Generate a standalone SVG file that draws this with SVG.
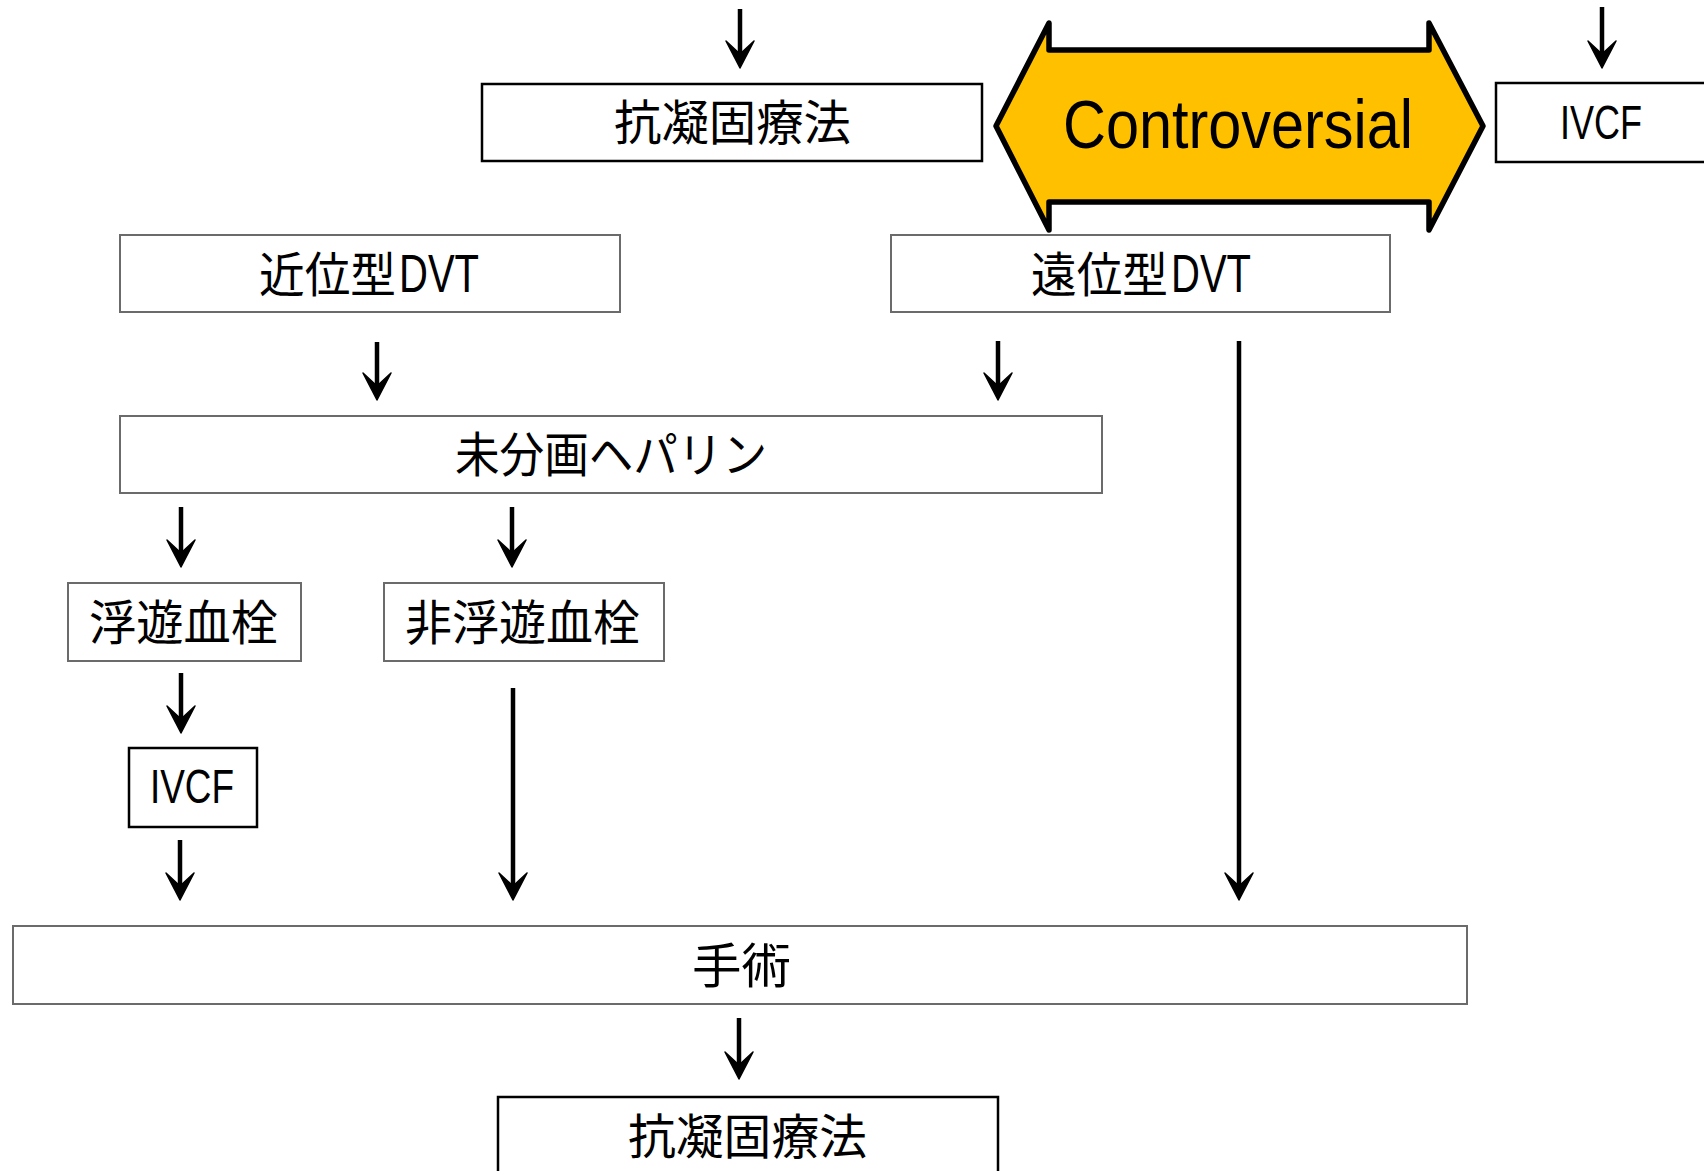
<svg xmlns="http://www.w3.org/2000/svg" width="1704" height="1171" viewBox="0 0 1704 1171">
  <style>
    .box-gray { fill: #ffffff; stroke: #6b6b6b; stroke-width: 2; }
    .box-black { fill: #ffffff; stroke: #000000; stroke-width: 2.5; }
    .jp { font-family: "Noto Sans CJK JP", "Noto Sans CJK SC", sans-serif; font-size: 48px; fill: #000; }
    .lat { font-family: "Liberation Sans", "DejaVu Sans", sans-serif; fill: #000; }
    .wire { fill: none; stroke: #000; stroke-width: 4.5; }
  </style>
  <defs>
    <marker id="head" viewBox="-30 -16 32 32" refX="-12" refY="0" markerUnits="userSpaceOnUse" markerWidth="32" markerHeight="32" orient="auto">
      <path d="M0,0 L-27,-14 L-14,0 L-27,14 Z" fill="#000" stroke="#000" stroke-width="1.5" stroke-linejoin="round"/>
    </marker>
  </defs>

  <rect x="0" y="0" width="1704" height="1171" fill="#ffffff"/>

  <!-- connectors -->
  <g id="connectors">
    <line class="wire" x1="740" y1="9" x2="740" y2="56" marker-end="url(#head)"/>
    <line class="wire" x1="1602" y1="7" x2="1602" y2="56" marker-end="url(#head)"/>
    <line class="wire" x1="377" y1="342" x2="377" y2="388" marker-end="url(#head)"/>
    <line class="wire" x1="998" y1="341" x2="998" y2="388" marker-end="url(#head)"/>
    <line class="wire" x1="1239" y1="341" x2="1239" y2="888" marker-end="url(#head)"/>
    <line class="wire" x1="181" y1="507" x2="181" y2="555" marker-end="url(#head)"/>
    <line class="wire" x1="512" y1="507" x2="512" y2="555" marker-end="url(#head)"/>
    <line class="wire" x1="181" y1="673" x2="181" y2="721" marker-end="url(#head)"/>
    <line class="wire" x1="180" y1="840" x2="180" y2="888" marker-end="url(#head)"/>
    <line class="wire" x1="513" y1="688" x2="513" y2="888" marker-end="url(#head)"/>
    <line class="wire" x1="739" y1="1018" x2="739" y2="1067" marker-end="url(#head)"/>
  </g>

  <!-- anticoagulation (top) -->
  <g id="anticoag-top">
    <rect class="box-black" x="482" y="84" width="500" height="77"/>
    <text class="jp" x="614" y="140" textLength="237" lengthAdjust="spacingAndGlyphs">抗凝固療法</text>
  </g>

  <!-- double-headed controversial arrow -->
  <g id="controversial">
    <polygon points="996,126 1049,23 1049,50 1429,50 1429,23 1483,126 1429,230 1429,202 1049,202 1049,230" fill="#FFC000" stroke="#000" stroke-width="5.5" stroke-linejoin="round"/>
    <text class="lat" x="1063" y="148" font-size="68" textLength="350" lengthAdjust="spacingAndGlyphs">Controversial</text>
  </g>

  <!-- IVCF (top right) -->
  <g id="ivcf-top">
    <rect class="box-black" x="1496" y="83" width="220" height="79"/>
    <text class="lat" x="1560" y="139" font-size="48" textLength="82" lengthAdjust="spacingAndGlyphs">IVCF</text>
  </g>

  <!-- proximal DVT -->
  <g id="proximal-dvt">
    <rect class="box-gray" x="120" y="235" width="500" height="77"/>
    <text class="jp" x="259" y="292" textLength="137" lengthAdjust="spacingAndGlyphs">近位型</text>
    <text class="lat" x="399" y="292" font-size="54" textLength="80" lengthAdjust="spacingAndGlyphs">DVT</text>
  </g>

  <!-- distal DVT -->
  <g id="distal-dvt">
    <rect class="box-gray" x="891" y="235" width="499" height="77"/>
    <text class="jp" x="1031" y="292" textLength="137" lengthAdjust="spacingAndGlyphs">遠位型</text>
    <text class="lat" x="1171" y="292" font-size="54" textLength="80" lengthAdjust="spacingAndGlyphs">DVT</text>
  </g>

  <!-- unfractionated heparin -->
  <g id="heparin">
    <rect class="box-gray" x="120" y="416" width="982" height="77"/>
    <text class="jp" x="455" y="472" textLength="312" lengthAdjust="spacingAndGlyphs">未分画ヘパリン</text>
  </g>

  <!-- floating thrombus -->
  <g id="floating">
    <rect class="box-gray" x="68" y="583" width="233" height="78"/>
    <text class="jp" x="89" y="640" textLength="189" lengthAdjust="spacingAndGlyphs">浮遊血栓</text>
  </g>

  <!-- non-floating thrombus -->
  <g id="non-floating">
    <rect class="box-gray" x="384" y="583" width="280" height="78"/>
    <text class="jp" x="405" y="640" textLength="235" lengthAdjust="spacingAndGlyphs">非浮遊血栓</text>
  </g>

  <!-- IVCF (left) -->
  <g id="ivcf-left">
    <rect class="box-black" x="129" y="748" width="128" height="79"/>
    <text class="lat" x="150" y="803" font-size="48" textLength="84" lengthAdjust="spacingAndGlyphs">IVCF</text>
  </g>

  <!-- surgery -->
  <g id="surgery">
    <rect class="box-gray" x="13" y="926" width="1454" height="78"/>
    <text class="jp" x="692" y="983" textLength="99" lengthAdjust="spacingAndGlyphs">手術</text>
  </g>

  <!-- anticoagulation (bottom) -->
  <g id="anticoag-bottom">
    <rect class="box-black" x="498" y="1097" width="500" height="90"/>
    <text class="jp" x="628" y="1154" textLength="239" lengthAdjust="spacingAndGlyphs">抗凝固療法</text>
  </g>
</svg>
